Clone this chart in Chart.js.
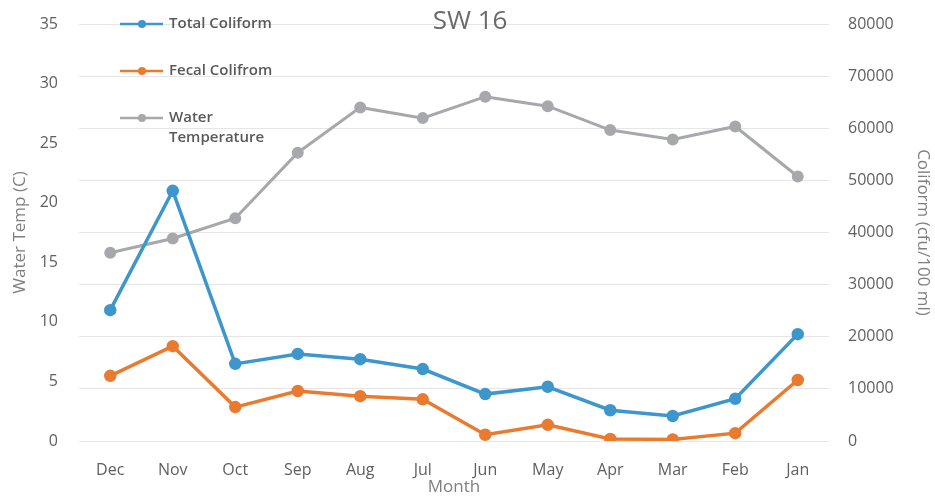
<!DOCTYPE html>
<html>
<head>
<meta charset="utf-8">
<script src="https://cdn.jsdelivr.net/npm/chart.js@4.4.0/dist/chart.umd.min.js"></script>
<style>
  body { margin: 0; background: #fff; }
  canvas { display: block; }
</style>
</head>
<body>
<canvas id="swChart" width="935" height="497"></canvas>
<script>
var months = ['Dec', 'Nov', 'Oct', 'Sep', 'Aug', 'Jul', 'Jun', 'May', 'Apr', 'Mar', 'Feb', 'Jan'];
var totalColiform = [25100, 48000, 14800, 16700, 15700, 13800, 9000, 10400, 5900, 4800, 8100, 20500];
var fecalColiform = [12500, 18200, 6500, 9600, 8600, 8000, 1200, 3100, 400, 300, 1500, 11700];
var waterTemp = [15.8, 17.0, 18.7, 24.2, 28.0, 27.1, 28.9, 28.1, 26.1, 25.3, 26.4, 22.2];

var blue = '#3d96cc';
var orange = '#e87b30';
var grey = '#a6a8ab';
var textGrey = '#5f5f5f';

// legend + title drawn over the plot area like the original
var overlay = {
    id: 'overlay',
    afterDraw: function (chart) {
        var c = chart.ctx;
        var a = chart.chartArea;
        c.save();
        c.fillStyle = '#6b6b6b';
        c.font = '26px "Open Sans"';
        c.textAlign = 'center';
        c.textBaseline = 'middle';
        c.fillText('SW 16', 470, a.top - 2);

        var items = [
            { text: ['Total Coliform'], color: blue, dy: 0 },
            { text: ['Fecal Colifrom'], color: orange, dy: 47 },
            { text: ['Water', 'Temperature'], color: grey, dy: 94 }
        ];
        items.forEach(function (it) {
            var y = a.top + it.dy;
            c.strokeStyle = it.color;
            c.lineWidth = 2.5;
            c.beginPath();
            c.moveTo(a.left + 41, y);
            c.lineTo(a.left + 84, y);
            c.stroke();
            c.fillStyle = it.color;
            c.beginPath();
            c.arc(a.left + 63, y, 4, 0, Math.PI * 2);
            c.fill();
            c.fillStyle = '#595959';
            c.font = '600 15px "Open Sans"';
            c.textAlign = 'left';
            it.text.forEach(function (t, i) {
                c.fillText(t, a.left + 90, y + i * 20);
            });
        });
        c.restore();
    }
};

// fixed axis sizes, and no extra label padding above/below the plot
function fixWidth(w) {
    return function (s) {
        s.width = w;
        s.paddingTop = 0;
        s.paddingBottom = 0;
    };
}

var ctx = document.getElementById('swChart').getContext('2d');
var swChart = new Chart(ctx, {
    type: 'line',
    data: {
        labels: months,
        datasets: [
            {
                label: 'Total Coliform',
                data: totalColiform,
                yAxisID: 'y1',
                borderColor: blue,
                backgroundColor: blue,
                borderWidth: 3.5,
                pointRadius: 4.5,
                tension: 0
            },
            {
                label: 'Fecal Colifrom',
                data: fecalColiform,
                yAxisID: 'y1',
                borderColor: orange,
                backgroundColor: orange,
                borderWidth: 3.5,
                pointRadius: 4.5,
                tension: 0
            },
            {
                label: 'Water Temperature',
                data: waterTemp,
                yAxisID: 'y',
                borderColor: grey,
                backgroundColor: grey,
                borderWidth: 3,
                pointRadius: 4.5,
                tension: 0
            }
        ]
    },
    options: {
        responsive: false,
        animation: false,
        layout: { padding: { top: 24, left: 0, right: 0, bottom: 0 } },
        plugins: {
            legend: { display: false },
            tooltip: { enabled: false }
        },
        scales: {
            x: {
                offset: true,
                grid: { display: false, drawTicks: false },
                border: { display: false },
                ticks: { color: textGrey, font: { family: 'Open Sans', size: 16 }, padding: 20, maxRotation: 0 },
                title: { display: true, text: 'Month', color: '#7f7f7f', font: { family: 'Open Sans', size: 17 }, padding: { top: 0, bottom: 0 } },
                afterFit: function (s) { s.height = 56; }
            },
            y: {
                position: 'left',
                min: 0,
                max: 35,
                grid: { display: false, drawTicks: false },
                border: { display: false },
                ticks: { stepSize: 5, color: textGrey, font: { family: 'Open Sans', size: 16 }, padding: 21 },
                title: { display: true, text: 'Water Temp (C)', color: '#7f7f7f', font: { family: 'Open Sans', size: 17 }, padding: { top: 10, bottom: 0 } },
                afterFit: fixWidth(79)
            },
            y1: {
                position: 'right',
                min: 0,
                max: 80000,
                grid: { color: '#e6e6e6', lineWidth: 1, drawTicks: false },
                border: { display: false },
                ticks: {
                    stepSize: 10000, color: textGrey, font: { family: 'Open Sans', size: 16 }, padding: 19,
                    callback: function (v) { return String(v); }
                },
                title: { display: true, text: 'Coliform (cfu/100 ml)', color: '#7f7f7f', font: { family: 'Open Sans', size: 17 }, padding: { top: 2, bottom: 0 } },
                afterFit: fixWidth(106)
            }
        }
    },
    plugins: [overlay]
});
</script>
</body>
</html>
